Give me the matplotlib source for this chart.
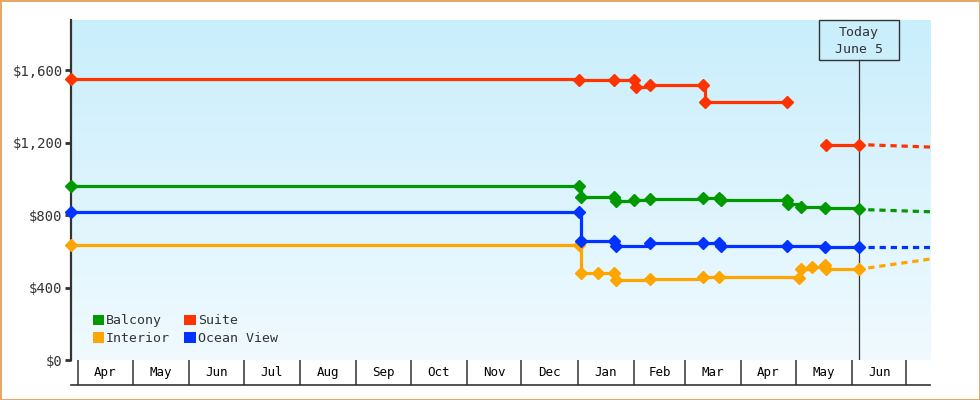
import matplotlib
matplotlib.use("Agg")
import matplotlib.pyplot as plt
import matplotlib.dates as mdates
from matplotlib.patches import Patch, Rectangle
import numpy as np
import pandas as pd

plt.rcParams['font.family'] = ['DejaVu Sans Mono']
plt.rcParams['lines.scale_dashes'] = False

# --- data ---
balcony_dates = ["2024-03-28", "2025-01-02", "2025-01-03", "2025-01-21", "2025-01-22",
                 "2025-02-01", "2025-02-10", "2025-03-11", "2025-03-20", "2025-03-21",
                 "2025-04-26", "2025-04-27", "2025-05-04", "2025-05-17", "2025-06-05"]
balcony_prices = [960, 960, 899, 899, 878, 883, 888, 894, 894, 883,
                  883, 861, 846, 836, 833]

interior_dates = ["2024-03-28", "2025-01-02", "2025-01-03", "2025-01-12", "2025-01-21",
                  "2025-01-22", "2025-02-10", "2025-03-11", "2025-03-20", "2025-05-03",
                  "2025-05-04", "2025-05-10", "2025-05-17", "2025-05-18", "2025-06-05"]
interior_prices = [634, 634, 479, 479, 478, 443, 449, 456, 456, 452,
                   502, 515, 524, 502, 502]

suite_dates = ["2024-03-28", "2025-01-02", "2025-01-21", "2025-02-01", "2025-02-02",
               "2025-02-10", "2025-03-11", "2025-03-12", "2025-04-26", "2025-04-26",
               "2025-05-18", "2025-06-05"]
suite_prices = [1550, 1545, 1545, 1545, 1506, 1520, 1520, 1421, 1421, np.nan,
                1186, 1186]

ocean_dates = ["2024-03-28", "2025-01-02", "2025-01-03", "2025-01-21", "2025-01-22",
               "2025-02-10", "2025-03-11", "2025-03-20", "2025-03-21", "2025-04-26",
               "2025-05-17", "2025-06-05"]
ocean_prices = [817, 817, 657, 657, 629, 644, 646, 644, 629, 629, 625, 622]

# dashed projection after today
forecast_dates = ["2025-06-10", "2025-07-14"]
balcony_forecast = [829, 818]
interior_forecast = [508, 557]
suite_forecast = [1187, 1175]
ocean_forecast = [622, 622]

series_names = ["Balcony", "Interior", "Suite", "Ocean View"]
series_colors = ["#009900", "#ffa500", "#ff3300", "#0033ff"]
series_dates = [balcony_dates, interior_dates, suite_dates, ocean_dates]
series_prices = [balcony_prices, interior_prices, suite_prices, ocean_prices]
series_forecast = [balcony_forecast, interior_forecast, suite_forecast, ocean_forecast]

today = pd.Timestamp("2025-06-05")
x_start = pd.Timestamp("2024-03-28")
x_end = pd.Timestamp("2025-07-14")
y_ticks = [0, 400, 800, 1200, 1600]
y_max = 1876
month_labels = ["Apr", "May", "Jun", "Jul", "Aug", "Sep", "Oct", "Nov", "Dec",
                "Jan", "Feb", "Mar", "Apr", "May", "Jun"]
month_starts = pd.date_range("2024-04-01", periods=len(month_labels) + 1, freq="MS")

ink = "#333333"

fig = plt.figure(figsize=(9.8, 4.0), dpi=100)
fig.patch.set_facecolor("white")
fig.patch.set_edgecolor("#e6a866")
fig.patch.set_linewidth(1.8)

left, right = 71 / 980, 930 / 980
ax = fig.add_axes([left, 40 / 400, right - left, 340 / 400])

# gradient background
grad = np.linspace(0, 1, 256)[:, None]
top = np.array([0xc9, 0xee, 0xfc]) / 255
bot = np.array([0xf0, 0xfa, 0xff]) / 255
img = (top[None, None, :] * (1 - grad[:, :, None]) + bot[None, None, :] * grad[:, :, None])
ax.imshow(img, extent=[0, 1, 0, 1], transform=ax.transAxes, aspect="auto", zorder=0)

for dates, prices, fc, color in zip(series_dates, series_prices, series_forecast, series_colors):
    ax.plot(pd.to_datetime(dates), prices, color=color, lw=2.3, drawstyle="steps-post",
            marker="D", ms=6.2, zorder=3, clip_on=False)
    ax.plot(pd.to_datetime(forecast_dates), fc, color=color, lw=2.3,
            dashes=(4.5, 3.5), zorder=3)

# today marker
ax.plot([today, today], [0, 0.882], color=ink, lw=0.9, transform=ax.get_xaxis_transform(), zorder=2)
box_w = 44
ax.add_patch(Rectangle((mdates.date2num(today) - box_w / 2, 0.882), box_w, 0.118,
                       transform=ax.get_xaxis_transform(), facecolor="none",
                       edgecolor=ink, lw=1.0, clip_on=False, zorder=4))
ax.text(today, 0.938, f"Today\n{today:%B} {today.day}", transform=ax.get_xaxis_transform(),
        ha="center", va="center", fontsize=9.5, color=ink, linespacing=1.45, zorder=5)

ax.set_xlim(x_start, x_end)
ax.set_ylim(0, y_max)
ax.set_xticks([])
ax.set_yticks(y_ticks)
ax.set_yticklabels([f"${v:,.0f}" for v in y_ticks])
ax.tick_params(axis="y", length=4, width=2, color=ink, labelcolor=ink, labelsize=10, pad=2)
for s in ["top", "right", "bottom"]:
    ax.spines[s].set_visible(False)
ax.spines["left"].set_color(ink)
ax.spines["left"].set_linewidth(1.6)

handles = [Patch(facecolor=c, edgecolor="none") for c in series_colors]
leg = ax.legend(handles, series_names, ncol=2, loc="lower left", bbox_to_anchor=(0.010, 0.005),
                frameon=False, fontsize=9.5, handlelength=0.85, handleheight=0.85,
                handletextpad=0.15, columnspacing=1.1, labelspacing=0.35, borderaxespad=0.6)
for t in leg.get_texts():
    t.set_color(ink)

# month band under the plot
band = fig.add_axes([left, 15 / 400, right - left, 25 / 400])
band.set_xlim(x_start, x_end)
band.set_ylim(0, 1)
band.set_xticks([])
band.set_yticks([])
band.patch.set_alpha(0)
for s in ["top", "right", "left"]:
    band.spines[s].set_visible(False)
band.spines["bottom"].set_color(ink)
band.spines["bottom"].set_linewidth(1.2)
for d in month_starts:
    band.axvline(d, color=ink, lw=1.1)
for i, lab in enumerate(month_labels):
    mid = month_starts[i] + (month_starts[i + 1] - month_starts[i]) / 2
    band.text(mid, 0.5, lab, ha="center", va="center", fontsize=9, color="black")

fig.savefig("out.png", dpi=100)
